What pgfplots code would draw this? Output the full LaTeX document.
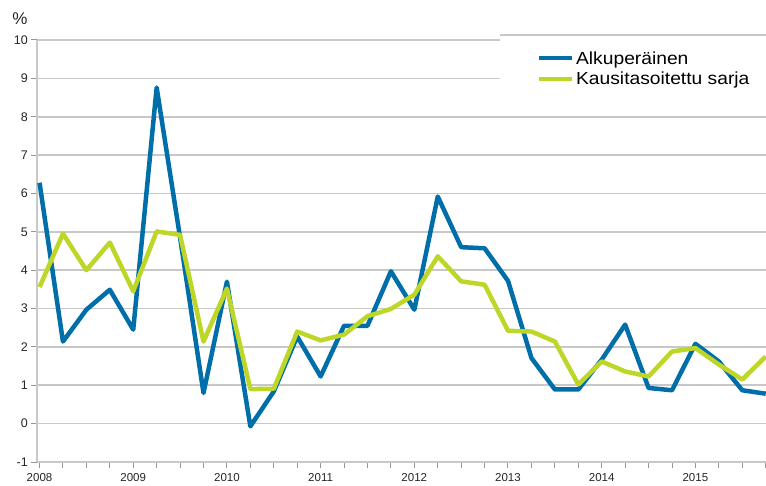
\documentclass[border=0pt]{standalone}
\usepackage{fontspec}
\setmainfont{Liberation Sans}
\newfontfamily\legfont[FakeStretch=1.1]{Liberation Sans}
\usepackage{pgfplots}
\usepackage{pgfplotstable}
\pgfplotsset{compat=1.18}
\definecolor{blueS}{RGB}{0,110,168}
\definecolor{greenS}{RGB}{190,214,40}
\definecolor{gridc}{RGB}{200,200,200}
\definecolor{tickc}{RGB}{150,150,150}
\pgfplotstableread{
x orig seas
2008.00 6.28 3.56
2008.25 2.14 4.95
2008.50 2.97 4.00
2008.75 3.49 4.72
2009.00 2.45 3.45
2009.25 8.76 5.01
2009.50 4.85 4.92
2009.75 0.80 2.14
2010.00 3.70 3.52
2010.25 -0.07 0.90
2010.50 0.84 0.91
2010.75 2.27 2.40
2011.00 1.23 2.17
2011.25 2.55 2.32
2011.50 2.55 2.80
2011.75 3.97 2.99
2012.00 2.97 3.36
2012.25 5.92 4.36
2012.50 4.60 3.71
2012.75 4.57 3.62
2013.00 3.72 2.42
2013.25 1.71 2.40
2013.50 0.89 2.14
2013.75 0.89 1.02
2014.00 1.67 1.62
2014.25 2.58 1.36
2014.50 0.93 1.23
2014.75 0.87 1.88
2015.00 2.08 1.97
2015.25 1.62 1.54
2015.50 0.87 1.15
2015.75 0.78 1.75
}\data
\begin{document}
\begin{tikzpicture}
\useasboundingbox (-37pt,-23pt) rectangle (729pt,462pt);
\begin{axis}[
  scale only axis, width=729pt, height=422pt,
  at={(0,0)}, anchor=south west,
  xmin=2007.973, xmax=2015.753, ymin=-1, ymax=10,
  clip mode=individual,
  axis x line*=bottom, axis y line*=left,
  axis line style={gridc, line width=1.6pt, -},
  xtick={2008,2009,...,2015},
  minor xtick={2008.25,2008.5,2008.75,2009.25,2009.5,2009.75,2010.25,2010.5,2010.75,2011.25,2011.5,2011.75,2012.25,2012.5,2012.75,2013.25,2013.5,2013.75,2014.25,2014.5,2014.75,2015.25,2015.5,2015.75},
  xticklabels={2008,2009,2010,2011,2012,2013,2014,2015},
  ytick={-1,0,...,10},
  tick align=outside,
  major tick length=6pt, minor tick length=6pt,
  tick style={tickc, line width=1pt},
  ymajorgrids,
  major grid style={gridc, line width=1.6pt},
  /pgf/number format/assume math mode=true,
  yticklabel style={font=\fontsize{12.5}{13}\selectfont, inner sep=0pt, xshift=-3pt, text=black!85},
  xticklabel style={font=\fontsize{11.5}{12}\selectfont, inner sep=0pt, yshift=-5.5pt, text=black!85},
  legend cell align=left,
  legend style={at={(axis description cs:0.683,0.983)}, anchor=north west, draw=none, fill=none,
    font=\legfont\fontsize{17.5}{19}\selectfont, row sep=2pt, inner sep=2pt,
    nodes={inner sep=2pt}},
  legend image code/.code={\draw[#1, line width=4pt] (0pt,0pt) -- (33pt,0pt);},
]
\fill[white] (axis cs:2012.915,8.04) rectangle (axis cs:2015.753,10.13);
\draw[gridc, line width=1.6pt] (axis cs:2012.915,10.13) -- (axis cs:2015.753,10.13);
\addplot[blueS, line width=4.5pt, line join=round] table[x=x, y=orig] {\data};
\addlegendentry{Alkuperäinen}
\addplot[greenS, line width=4.5pt, line join=round] table[x=x, y=seas] {\data};
\addlegendentry{Kausitasoitettu sarja}
\end{axis}
\node[font=\fontsize{17}{18}\selectfont, text=black!85] at (-17pt,443pt) {\%};
\end{tikzpicture}
\end{document}
